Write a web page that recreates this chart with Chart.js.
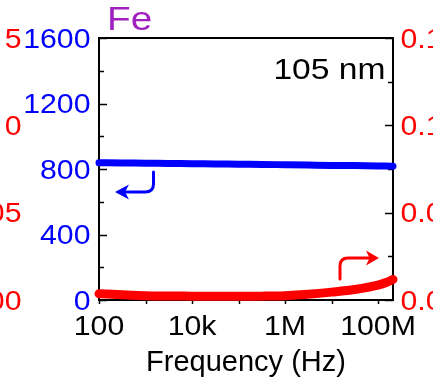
<!DOCTYPE html>
<html>
<head>
<meta charset="utf-8">
<script src="https://cdn.jsdelivr.net/npm/chart.js@4/dist/chart.umd.min.js"></script>
<style>
    html, body { margin: 0; padding: 0; background: #fff; }
</style>
</head>
<body>
<canvas id="chart" width="433" height="386"></canvas>
<script>
// Messfrequenzen (Hz)
const frequenz = [100, 316, 1e3, 3.16e3, 1e4, 3.16e4, 1e5, 3.16e5, 1e6, 3.16e6, 1e7, 3.16e7, 1e8, 1.5e8, 2.1e8];
// linke Achse (blau)
const blauWerte = [838, 837, 835, 834, 832, 831, 829, 828, 826, 824, 822, 821, 819, 818, 817];
// rechte Achse (rot)
const rotWerte = [0.0036, 0.0030, 0.0025, 0.0023, 0.0022, 0.0021, 0.0021, 0.0022, 0.0025, 0.0033, 0.0045, 0.0060, 0.0085, 0.0100, 0.0118];

// Achsenteilung
const xTickWerte = [100, 1e3, 1e4, 1e5, 1e6, 1e7, 1e8];
const xTickTexte = ['100', '', '10k', '', '1M', '', '100M'];
const linksTickWerte = [0, 200, 400, 600, 800, 1000, 1200, 1400, 1600];
const linksTickTexte = ['0', '', '400', '', '800', '', '1200', '', '1600'];
const rechtsTickWerte = [0, 0.025, 0.05, 0.075, 0.1, 0.125, 0.15];
const rechtsTickTexte = ['0.00', '', '0.05', '', '0.10', '', '0.15'];
// Reste der Achse vom Nachbarbild (links abgeschnitten)
const nachbarWerte = [0, 0.05, 0.1, 0.15];
const nachbarTexte = ['00', '05', '0', '5'];

const schrift = '"Liberation Sans", Arial, sans-serif';
const blau = '#0000ff';
const rot = '#ff0000';
const breite = 1.12; // Schrift etwas breiter gezogen

// Text mit horizontaler Streckung zeichnen
function text(ctx, txt, x, y, align, groesse, farbe, streck) {
    ctx.save();
    ctx.font = groesse + 'px ' + schrift;
    ctx.fillStyle = farbe;
    ctx.textAlign = align;
    ctx.textBaseline = 'alphabetic';
    ctx.translate(x, y);
    ctx.scale(streck || breite, 1);
    ctx.fillText(txt, 0, 0);
    ctx.restore();
}

// Ticks nach innen, oberer Rahmen, Tickbeschriftung
const rahmenPlugin = {
    id: 'rahmen',
    beforeDatasetsDraw(chart) {
        const ctx = chart.ctx;
        const a = chart.chartArea;
        const s = chart.scales;
        ctx.save();
        ctx.strokeStyle = '#000';
        ctx.lineWidth = 2;
        ctx.beginPath();
        ctx.moveTo(a.left - 1, a.top);
        ctx.lineTo(a.right + 1, a.top);
        ctx.stroke();
        ctx.lineWidth = 1.5;
        s.y.ticks.forEach((t, i) => {
            const y = s.y.getPixelForValue(t.value);
            const len = linksTickTexte[i] ? 8 : 5;
            ctx.beginPath();
            ctx.moveTo(a.left, Math.round(y) + 0.5);
            ctx.lineTo(a.left + len, Math.round(y) + 0.5);
            ctx.stroke();
            if (linksTickTexte[i]) text(ctx, linksTickTexte[i], 90.5, y + 9.5, 'right', 27, blau);
        });
        s.y2.ticks.forEach((t, i) => {
            const y = s.y2.getPixelForValue(t.value);
            const len = rechtsTickTexte[i] ? 8 : 5;
            ctx.beginPath();
            ctx.moveTo(a.right, Math.round(y) + 0.5);
            ctx.lineTo(a.right - len, Math.round(y) + 0.5);
            ctx.stroke();
            if (rechtsTickTexte[i]) text(ctx, rechtsTickTexte[i], 400.5, y + 9.5, 'left', 27, rot);
        });
        s.x.ticks.forEach((t, i) => {
            const x = s.x.getPixelForValue(t.value);
            ctx.beginPath();
            ctx.moveTo(Math.round(x) + 0.5, a.bottom);
            ctx.lineTo(Math.round(x) + 0.5, a.bottom + 4);
            ctx.stroke();
            if (xTickTexte[i]) text(ctx, xTickTexte[i], x, 334.5, 'center', 27, '#000');
        });
        ctx.restore();
    }
};

// Beschriftungen und Pfeile
const textPlugin = {
    id: 'texte',
    afterDraw(chart) {
        const ctx = chart.ctx;
        const s = chart.scales;

        text(ctx, 'Fe', 107, 29.5, 'left', 34, '#a020c0', 1.14);
        text(ctx, '105 nm', 385.5, 78.5, 'right', 30, '#000', 1.12);

        nachbarWerte.forEach((v, i) => {
            text(ctx, nachbarTexte[i], 21.5, s.y2.getPixelForValue(v) + 9.5, 'right', 27, rot);
        });

        ctx.save();
        ctx.lineWidth = 3;
        ctx.lineCap = 'round';

        // Pfeil zur linken Achse
        ctx.strokeStyle = blau;
        ctx.fillStyle = blau;
        ctx.beginPath();
        ctx.moveTo(153.5, 172);
        ctx.lineTo(153.5, 184);
        ctx.quadraticCurveTo(153.5, 192, 145, 192);
        ctx.lineTo(124, 192);
        ctx.stroke();
        ctx.beginPath();
        ctx.moveTo(115, 192);
        ctx.lineTo(129, 184.5);
        ctx.lineTo(125, 192);
        ctx.lineTo(129, 199.5);
        ctx.closePath();
        ctx.fill();

        // Pfeil zur rechten Achse
        ctx.strokeStyle = rot;
        ctx.fillStyle = rot;
        ctx.beginPath();
        ctx.moveTo(340, 279);
        ctx.lineTo(340, 266);
        ctx.quadraticCurveTo(340, 258, 348, 258);
        ctx.lineTo(370, 258);
        ctx.stroke();
        ctx.beginPath();
        ctx.moveTo(379, 258);
        ctx.lineTo(366, 250.5);
        ctx.lineTo(369.5, 258);
        ctx.lineTo(366, 265.5);
        ctx.closePath();
        ctx.fill();

        ctx.restore();
    }
};

new Chart(document.getElementById('chart'), {
    type: 'line',
    data: {
        labels: frequenz,
        datasets: [{
            data: frequenz.map((f, i) => ({ x: f, y: blauWerte[i] })),
            yAxisID: 'y',
            borderColor: blau,
            borderWidth: 7,
            borderCapStyle: 'round',
            pointRadius: 0,
            cubicInterpolationMode: 'monotone',
            clip: false
        }, {
            data: frequenz.map((f, i) => ({ x: f, y: rotWerte[i] })),
            yAxisID: 'y2',
            borderColor: rot,
            borderWidth: 9,
            borderCapStyle: 'round',
            pointRadius: 0,
            cubicInterpolationMode: 'monotone',
            clip: false
        }]
    },
    options: {
        responsive: false,
        animation: false,
        devicePixelRatio: 1,
        layout: { padding: { top: 38, left: 0, right: 0, bottom: 0 } },
        plugins: {
            legend: { display: false },
            tooltip: { enabled: false }
        },
        scales: {
            x: {
                type: 'logarithmic',
                min: 100,
                max: 2.1e8,
                afterBuildTicks: s => { s.ticks = xTickWerte.map(v => ({ value: v })); },
                afterFit: s => { s.height = 86; },
                ticks: { display: false },
                grid: { display: false },
                border: { display: true, color: '#000', width: 2 },
                title: {
                    display: true,
                    text: 'Frequency (Hz)',
                    color: '#000',
                    font: { family: schrift, size: 29 },
                    padding: { top: 0, bottom: 6 }
                }
            },
            y: {
                position: 'left',
                min: 0,
                max: 1600,
                afterBuildTicks: s => { s.ticks = linksTickWerte.map(v => ({ value: v })); },
                afterFit: s => { s.width = 99; },
                ticks: { display: false },
                grid: { display: false },
                border: { display: true, color: '#000', width: 2 }
            },
            y2: {
                position: 'right',
                min: 0,
                max: 0.15,
                afterBuildTicks: s => { s.ticks = rechtsTickWerte.map(v => ({ value: v })); },
                afterFit: s => { s.width = 40; },
                ticks: { display: false },
                grid: { display: false },
                border: { display: true, color: '#000', width: 2 }
            }
        }
    },
    plugins: [rahmenPlugin, textPlugin]
});
</script>
</body>
</html>
